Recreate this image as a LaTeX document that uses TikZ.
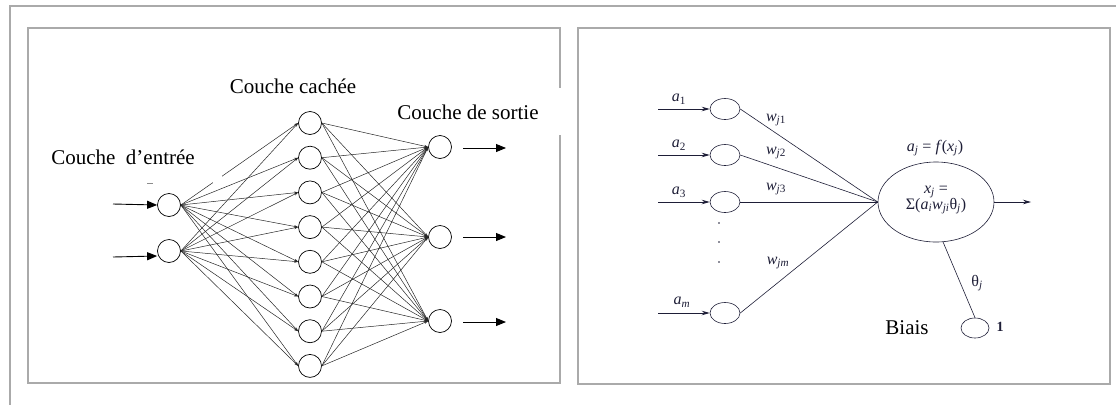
\documentclass[tikz,border=0pt]{standalone}
\usepackage{fontspec}
\setmainfont{Liberation Serif}
\usetikzlibrary{arrows.meta,shapes.geometric}
\definecolor{framegray}{RGB}{170,170,170}
\definecolor{ink}{RGB}{30,30,55}
\newcommand{\vsub}[2]{\textit{#1}\textsubscript{#2}}

\begin{document}
\begin{tikzpicture}[x=1pt,y=-1pt,
  frame/.style={draw=framegray, line width=1.6pt},
  neuron/.style={draw, circle, minimum size=23pt, inner sep=0pt, line width=0.7pt, fill=white},
  link/.style={line width=0.5pt, black!85, -{Stealth[length=4pt,width=2.6pt]}},
  inarrow/.style={line width=0.9pt, -{Triangle[length=10pt,width=8pt]}},
  title/.style={font=\fontsize{21}{24}\selectfont, inner sep=0pt},
  unit/.style={draw, ellipse, minimum width=30pt, minimum height=21pt, inner sep=0pt, line width=0.6pt, draw=ink},
  wire/.style={line width=0.6pt, ink},
  feed/.style={line width=0.8pt, ink, -{Stealth[length=8pt,width=4.5pt]}},
  lbl/.style={font=\fontsize{16}{17}\selectfont, inner sep=0pt, text=ink}
]
\useasboundingbox (0,0) rectangle (1116,405);

% frames
\draw[frame] (1116,6) -- (10,6) -- (10,405);
\draw[frame] (28,28) rectangle (560,383);
\draw[frame] (578,28) rectangle (1110,384);
\fill[white] (555,88) rectangle (565,135);

% ---------------- multilayer network ----------------
\node[neuron] (in1) at (169,205) {};
\node[neuron] (in2) at (169,251) {};
\foreach \j in {1,...,8}
  \node[neuron] (h\j) at (310,{123+34.7*(\j-1)}) {};
\node[neuron] (o1) at (440,147) {};
\node[neuron] (o2) at (440,237) {};
\node[neuron] (o3) at (440,321) {};

\foreach \i in {1,2}
  \foreach \j in {1,...,8}
    \draw[link] (in\i.east) -- (h\j.west);
\foreach \j in {1,...,8}
  \foreach \k in {1,2,3}
    \draw[link] (h\j.east) -- (o\k.west);

% break in the first link
\fill[white] (212.5,171) rectangle (222,186);
\draw[black!45, line width=0.6pt] (147,183) -- (153,183);

% inputs and outputs
\coordinate (s1) at (113,204);
\coordinate (s2) at (113,257);
\draw[inarrow] (s1) -- (in1.west);
\draw[inarrow] (s2) -- ([yshift=-5pt]in2.west);
\foreach \k/\y in {1/148,2/237,3/322} {
  \coordinate (t\k) at (463,\y);
  \coordinate (e\k) at (506,\y);
  \draw[inarrow] (t\k) -- (e\k);
}

% layer titles
\node[title] (tin) at (123,157) {Couche\ \ d’entrée};
\node[title] (thid) at (293,86) {Couche cachée};
\node[title] (tout) at (468,112) {Couche de sortie};

% ---------------- single neuron ----------------
\node[unit] (x1) at (725,109) {};
\node[unit] (x2) at (725,155) {};
\node[unit] (x3) at (725,202) {};
\node[unit] (xm) at (725,313) {};
\foreach \n/\y in {1/109,2/155,3/202,m/313} {
  \coordinate (src\n) at (658,\y);
  \draw[feed] (src\n) -- (x\n.west);
}
\node[lbl] (la1) at (679,99) {\vsub{a}{1}};
\node[lbl] (la2) at (679,145) {\vsub{a}{2}};
\node[lbl] (la3) at (679,192) {\vsub{a}{3}};
\node[lbl] (lam) at (682,302) {\vsub{a}{\textit{m}}};
\foreach \y in {223,242,262}
  \fill[ink] (719,\y) circle (0.9pt);

\node[draw=ink, ellipse, minimum width=116pt, minimum height=80pt, inner sep=0pt, line width=0.6pt] (sum) at (936,202) {};
\node[lbl, align=center] (sumtxt) at (936,200) {\vsub{x}{\textit{j}} =\\[-1pt]Σ(\vsub{a}{\textit{i}}\vsub{w}{\textit{ji}}θ\textsubscript{\textit{j}})};
\node[lbl] (act) at (935,148) {\vsub{a}{\textit{j}} = \textit{f}(\vsub{x}{\textit{j}})};

\foreach \n in {1,2,3,m}
  \draw[wire] (x\n.east) -- (sum.west);
\node[lbl] (w1) at (776,120) {\vsub{w}{\textit{j}1}};
\node[lbl] (w2) at (776,153) {\vsub{w}{\textit{j}2}};
\node[lbl] (w3) at (776,189) {\vsub{w}{\textit{j}3}};
\node[lbl] (wm) at (778,263) {\vsub{w}{\textit{jm}}};

\coordinate (out) at (1031,202);
\draw[feed] (sum.east) -- (out);

\node[unit, minimum width=28pt, minimum height=20pt] (bias) at (975,328) {};
\draw[wire] (sum.-80) -- (bias.north);
\node[lbl] (theta) at (977,283) {θ\textsubscript{\textit{j}}};
\node[title] (tbias) at (907,328) {Biais};
\node[lbl, font=\fontsize{14}{15}\selectfont\bfseries] (one) at (1000,327) {1};
\end{tikzpicture}
\end{document}
